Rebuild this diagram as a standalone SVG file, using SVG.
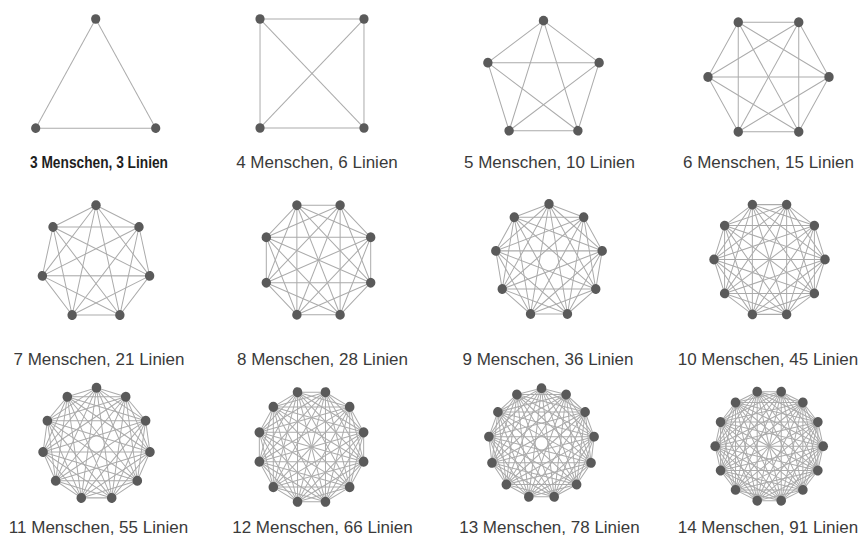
<svg xmlns="http://www.w3.org/2000/svg" xmlns:xlink="http://www.w3.org/1999/xlink" width="861" height="537" viewBox="0 0 861 537">
<style>
  .bg{fill:#ffffff}
  #connectors{stroke:#ababab;stroke-width:1;fill:none}
  .dot{fill:#5a5a5a}
  .lbl{font-family:"Liberation Sans",Arial,Helvetica,sans-serif;font-size:17px;fill:#3a3a3a;text-anchor:middle}
  .lbl1{font-family:"Liberation Sans",Arial,sans-serif;font-size:16px;font-weight:bold;fill:#1e1e1e}
</style>
<defs>
  <path id="f3" d="M0 -69.3L60.02 34.65"/>
  <path id="f4" d="M0 -73.5L73.5 0"/>
  <path id="d4" d="M0 -73.5L0 73.5"/>
  <path id="f5" d="M0 -58.5L55.64 -18.08M0 -58.5L34.39 47.33"/>
  <path id="f6" d="M0 -60.5L52.39 -30.25M0 -60.5L52.39 30.25"/>
  <path id="d6" d="M0 -60.5L0 60.5"/>
  <path id="f7" d="M0 -55L43 -34.29M0 -55L53.62 12.24M0 -55L23.86 49.56"/>
  <path id="f8" d="M0 -56.5L39.95 -39.95M0 -56.5L56.5 0M0 -56.5L39.95 39.95"/>
  <path id="d8" d="M0 -56.5L0 56.5"/>
  <path id="f9" d="M0 -54L34.71 -41.36M0 -54L53.18 -9.37M0 -54L46.77 27M0 -54L18.47 50.74"/>
  <path id="f10" d="M0 -55.5L32.62 -44.9M0 -55.5L52.79 -17.15M0 -55.5L52.79 17.15M0 -55.5L32.62 44.9"/>
  <path id="d10" d="M0 -55.5L0 55.5"/>
  <path id="f11" d="M0 -54L29.19 -45.43M0 -54L49.12 -22.43M0 -54L53.45 7.68M0 -54L40.81 35.36M0 -54L15.21 51.81"/>
  <path id="f12" d="M0 -54L27 -46.77M0 -54L46.77 -27M0 -54L54 0M0 -54L46.77 27M0 -54L27 46.77"/>
  <path id="d12" d="M0 -54L0 54"/>
  <path id="f13" d="M0 -53L24.63 -46.93M0 -53L43.62 -30.11M0 -53L52.61 -6.39M0 -53L49.56 18.79M0 -53L35.14 39.67M0 -53L12.68 51.46"/>
  <path id="f14" d="M0 -54L23.43 -48.65M0 -54L42.22 -33.67M0 -54L52.64 -12.02M0 -54L52.64 12.02M0 -54L42.22 33.67M0 -54L23.43 48.65"/>
  <path id="d14" d="M0 -54L0 54"/>
</defs>
<rect class="bg" x="0" y="0" width="861" height="537"/>

<g id="connectors">
  <g id="e3" transform="translate(95.7 91.8) scale(1 1.05)">
    <use href="#f3"/><use href="#f3" transform="rotate(120)"/><use href="#f3" transform="rotate(240)"/>
  </g>
  <g id="e4" transform="translate(312 73.5) scale(1 1.048)">
    <use href="#f4" transform="rotate(45)"/><use href="#f4" transform="rotate(135)"/><use href="#f4" transform="rotate(225)"/><use href="#f4" transform="rotate(315)"/>
    <use href="#d4" transform="rotate(45)"/><use href="#d4" transform="rotate(135)"/>
  </g>
  <g id="e5" transform="translate(543.5 81.5) scale(1 1.04)">
    <use href="#f5"/><use href="#f5" transform="rotate(72)"/><use href="#f5" transform="rotate(144)"/><use href="#f5" transform="rotate(216)"/><use href="#f5" transform="rotate(288)"/>
  </g>
  <g id="e6" transform="translate(768.5 77) scale(1 1.045)">
    <use href="#f6" transform="rotate(30)"/><use href="#f6" transform="rotate(90)"/><use href="#f6" transform="rotate(150)"/><use href="#f6" transform="rotate(210)"/><use href="#f6" transform="rotate(270)"/><use href="#f6" transform="rotate(330)"/>
    <use href="#d6" transform="rotate(30)"/><use href="#d6" transform="rotate(90)"/><use href="#d6" transform="rotate(150)"/>
  </g>
  <g id="e7" transform="translate(96 263) scale(1 1.05)">
    <use href="#f7"/><use href="#f7" transform="rotate(51.4286)"/><use href="#f7" transform="rotate(102.857)"/><use href="#f7" transform="rotate(154.286)"/><use href="#f7" transform="rotate(205.714)"/><use href="#f7" transform="rotate(257.143)"/><use href="#f7" transform="rotate(308.571)"/>
  </g>
  <g id="e8" transform="translate(318.5 260) scale(1 1.05)">
    <use href="#f8" transform="rotate(22.5)"/><use href="#f8" transform="rotate(67.5)"/><use href="#f8" transform="rotate(112.5)"/><use href="#f8" transform="rotate(157.5)"/><use href="#f8" transform="rotate(202.5)"/><use href="#f8" transform="rotate(247.5)"/><use href="#f8" transform="rotate(292.5)"/><use href="#f8" transform="rotate(337.5)"/>
    <use href="#d8" transform="rotate(22.5)"/><use href="#d8" transform="rotate(67.5)"/><use href="#d8" transform="rotate(112.5)"/><use href="#d8" transform="rotate(157.5)"/>
  </g>
  <g id="e9" transform="translate(549 260.7) scale(1 1.05)">
    <use href="#f9"/><use href="#f9" transform="rotate(40)"/><use href="#f9" transform="rotate(80)"/><use href="#f9" transform="rotate(120)"/><use href="#f9" transform="rotate(160)"/><use href="#f9" transform="rotate(200)"/><use href="#f9" transform="rotate(240)"/><use href="#f9" transform="rotate(280)"/><use href="#f9" transform="rotate(320)"/>
  </g>
  <g id="e10" transform="translate(769.5 259.5) scale(1 1.04)">
    <use href="#f10" transform="rotate(18)"/><use href="#f10" transform="rotate(54)"/><use href="#f10" transform="rotate(90)"/><use href="#f10" transform="rotate(126)"/><use href="#f10" transform="rotate(162)"/><use href="#f10" transform="rotate(198)"/><use href="#f10" transform="rotate(234)"/><use href="#f10" transform="rotate(270)"/><use href="#f10" transform="rotate(306)"/><use href="#f10" transform="rotate(342)"/>
    <use href="#d10" transform="rotate(18)"/><use href="#d10" transform="rotate(54)"/><use href="#d10" transform="rotate(90)"/><use href="#d10" transform="rotate(126)"/><use href="#d10" transform="rotate(162)"/>
  </g>
  <g id="e11" transform="translate(96.5 444) scale(1 1.04)">
    <use href="#f11"/><use href="#f11" transform="rotate(32.727)"/><use href="#f11" transform="rotate(65.455)"/><use href="#f11" transform="rotate(98.182)"/><use href="#f11" transform="rotate(130.909)"/><use href="#f11" transform="rotate(163.636)"/><use href="#f11" transform="rotate(196.364)"/><use href="#f11" transform="rotate(229.091)"/><use href="#f11" transform="rotate(261.818)"/><use href="#f11" transform="rotate(294.545)"/><use href="#f11" transform="rotate(327.273)"/>
  </g>
  <g id="e12" transform="translate(311.5 447) scale(1 1.05)">
    <use href="#f12" transform="rotate(15)"/><use href="#f12" transform="rotate(45)"/><use href="#f12" transform="rotate(75)"/><use href="#f12" transform="rotate(105)"/><use href="#f12" transform="rotate(135)"/><use href="#f12" transform="rotate(165)"/><use href="#f12" transform="rotate(195)"/><use href="#f12" transform="rotate(225)"/><use href="#f12" transform="rotate(255)"/><use href="#f12" transform="rotate(285)"/><use href="#f12" transform="rotate(315)"/><use href="#f12" transform="rotate(345)"/>
    <use href="#d12" transform="rotate(15)"/><use href="#d12" transform="rotate(45)"/><use href="#d12" transform="rotate(75)"/><use href="#d12" transform="rotate(105)"/><use href="#d12" transform="rotate(135)"/><use href="#d12" transform="rotate(165)"/>
  </g>
  <g id="e13" transform="translate(541.5 443.3) scale(1 1.04)">
    <use href="#f13"/><use href="#f13" transform="rotate(27.692)"/><use href="#f13" transform="rotate(55.385)"/><use href="#f13" transform="rotate(83.077)"/><use href="#f13" transform="rotate(110.769)"/><use href="#f13" transform="rotate(138.462)"/><use href="#f13" transform="rotate(166.154)"/><use href="#f13" transform="rotate(193.846)"/><use href="#f13" transform="rotate(221.538)"/><use href="#f13" transform="rotate(249.231)"/><use href="#f13" transform="rotate(276.923)"/><use href="#f13" transform="rotate(304.615)"/><use href="#f13" transform="rotate(332.308)"/>
  </g>
  <g id="e14" transform="translate(769.2 446.2) scale(1 1.035)">
    <use href="#f14" transform="rotate(12.857)"/><use href="#f14" transform="rotate(38.571)"/><use href="#f14" transform="rotate(64.286)"/><use href="#f14" transform="rotate(90)"/><use href="#f14" transform="rotate(115.714)"/><use href="#f14" transform="rotate(141.429)"/><use href="#f14" transform="rotate(167.143)"/><use href="#f14" transform="rotate(192.857)"/><use href="#f14" transform="rotate(218.571)"/><use href="#f14" transform="rotate(244.286)"/><use href="#f14" transform="rotate(270)"/><use href="#f14" transform="rotate(295.714)"/><use href="#f14" transform="rotate(321.429)"/><use href="#f14" transform="rotate(347.143)"/>
    <use href="#d14" transform="rotate(12.857)"/><use href="#d14" transform="rotate(38.571)"/><use href="#d14" transform="rotate(64.286)"/><use href="#d14" transform="rotate(90)"/><use href="#d14" transform="rotate(115.714)"/><use href="#d14" transform="rotate(141.429)"/><use href="#d14" transform="rotate(167.143)"/>
  </g>
</g>

<g id="nodes">
  <g id="k3" transform="translate(95.7 91.8) scale(1 1.05)">
    <g id="k3-1"><circle class="dot" cx="0" cy="-69.3" r="4.6"/></g>
    <g id="k3-2" transform="rotate(120)"><circle class="dot" cx="0" cy="-69.3" r="4.6"/></g>
    <g id="k3-3" transform="rotate(240)"><circle class="dot" cx="0" cy="-69.3" r="4.6"/></g>
  </g>
  <g id="k4" transform="translate(312 73.5) scale(1 1.048)">
    <g id="k4-1" transform="rotate(45)"><circle class="dot" cx="0" cy="-73.5" r="4.6"/></g>
    <g id="k4-2" transform="rotate(135)"><circle class="dot" cx="0" cy="-73.5" r="4.6"/></g>
    <g id="k4-3" transform="rotate(225)"><circle class="dot" cx="0" cy="-73.5" r="4.6"/></g>
    <g id="k4-4" transform="rotate(315)"><circle class="dot" cx="0" cy="-73.5" r="4.6"/></g>
  </g>
  <g id="k5" transform="translate(543.5 81.5) scale(1 1.04)">
    <g id="k5-1"><circle class="dot" cx="0" cy="-58.5" r="4.7"/></g>
    <g id="k5-2" transform="rotate(72)"><circle class="dot" cx="0" cy="-58.5" r="4.7"/></g>
    <g id="k5-3" transform="rotate(144)"><circle class="dot" cx="0" cy="-58.5" r="4.7"/></g>
    <g id="k5-4" transform="rotate(216)"><circle class="dot" cx="0" cy="-58.5" r="4.7"/></g>
    <g id="k5-5" transform="rotate(288)"><circle class="dot" cx="0" cy="-58.5" r="4.7"/></g>
  </g>
  <g id="k6" transform="translate(768.5 77) scale(1 1.045)">
    <g id="k6-1" transform="rotate(30)"><circle class="dot" cx="0" cy="-60.5" r="4.7"/></g>
    <g id="k6-2" transform="rotate(90)"><circle class="dot" cx="0" cy="-60.5" r="4.7"/></g>
    <g id="k6-3" transform="rotate(150)"><circle class="dot" cx="0" cy="-60.5" r="4.7"/></g>
    <g id="k6-4" transform="rotate(210)"><circle class="dot" cx="0" cy="-60.5" r="4.7"/></g>
    <g id="k6-5" transform="rotate(270)"><circle class="dot" cx="0" cy="-60.5" r="4.7"/></g>
    <g id="k6-6" transform="rotate(330)"><circle class="dot" cx="0" cy="-60.5" r="4.7"/></g>
  </g>
  <g id="k7" transform="translate(96 263) scale(1 1.05)">
    <g id="k7-1"><circle class="dot" cx="0" cy="-55" r="4.7"/></g>
    <g id="k7-2" transform="rotate(51.4286)"><circle class="dot" cx="0" cy="-55" r="4.7"/></g>
    <g id="k7-3" transform="rotate(102.857)"><circle class="dot" cx="0" cy="-55" r="4.7"/></g>
    <g id="k7-4" transform="rotate(154.286)"><circle class="dot" cx="0" cy="-55" r="4.7"/></g>
    <g id="k7-5" transform="rotate(205.714)"><circle class="dot" cx="0" cy="-55" r="4.7"/></g>
    <g id="k7-6" transform="rotate(257.143)"><circle class="dot" cx="0" cy="-55" r="4.7"/></g>
    <g id="k7-7" transform="rotate(308.571)"><circle class="dot" cx="0" cy="-55" r="4.7"/></g>
  </g>
  <g id="k8" transform="translate(318.5 260) scale(1 1.05)">
    <g id="k8-1" transform="rotate(22.5)"><circle class="dot" cx="0" cy="-56.5" r="4.7"/></g>
    <g id="k8-2" transform="rotate(67.5)"><circle class="dot" cx="0" cy="-56.5" r="4.7"/></g>
    <g id="k8-3" transform="rotate(112.5)"><circle class="dot" cx="0" cy="-56.5" r="4.7"/></g>
    <g id="k8-4" transform="rotate(157.5)"><circle class="dot" cx="0" cy="-56.5" r="4.7"/></g>
    <g id="k8-5" transform="rotate(202.5)"><circle class="dot" cx="0" cy="-56.5" r="4.7"/></g>
    <g id="k8-6" transform="rotate(247.5)"><circle class="dot" cx="0" cy="-56.5" r="4.7"/></g>
    <g id="k8-7" transform="rotate(292.5)"><circle class="dot" cx="0" cy="-56.5" r="4.7"/></g>
    <g id="k8-8" transform="rotate(337.5)"><circle class="dot" cx="0" cy="-56.5" r="4.7"/></g>
  </g>
  <g id="k9" transform="translate(549 260.7) scale(1 1.05)">
    <g id="k9-1"><circle class="dot" cx="0" cy="-54" r="4.7"/></g>
    <g id="k9-2" transform="rotate(40)"><circle class="dot" cx="0" cy="-54" r="4.7"/></g>
    <g id="k9-3" transform="rotate(80)"><circle class="dot" cx="0" cy="-54" r="4.7"/></g>
    <g id="k9-4" transform="rotate(120)"><circle class="dot" cx="0" cy="-54" r="4.7"/></g>
    <g id="k9-5" transform="rotate(160)"><circle class="dot" cx="0" cy="-54" r="4.7"/></g>
    <g id="k9-6" transform="rotate(200)"><circle class="dot" cx="0" cy="-54" r="4.7"/></g>
    <g id="k9-7" transform="rotate(240)"><circle class="dot" cx="0" cy="-54" r="4.7"/></g>
    <g id="k9-8" transform="rotate(280)"><circle class="dot" cx="0" cy="-54" r="4.7"/></g>
    <g id="k9-9" transform="rotate(320)"><circle class="dot" cx="0" cy="-54" r="4.7"/></g>
  </g>
  <g id="k10" transform="translate(769.5 259.5) scale(1 1.04)">
    <g id="k10-1" transform="rotate(18)"><circle class="dot" cx="0" cy="-55.5" r="4.7"/></g>
    <g id="k10-2" transform="rotate(54)"><circle class="dot" cx="0" cy="-55.5" r="4.7"/></g>
    <g id="k10-3" transform="rotate(90)"><circle class="dot" cx="0" cy="-55.5" r="4.7"/></g>
    <g id="k10-4" transform="rotate(126)"><circle class="dot" cx="0" cy="-55.5" r="4.7"/></g>
    <g id="k10-5" transform="rotate(162)"><circle class="dot" cx="0" cy="-55.5" r="4.7"/></g>
    <g id="k10-6" transform="rotate(198)"><circle class="dot" cx="0" cy="-55.5" r="4.7"/></g>
    <g id="k10-7" transform="rotate(234)"><circle class="dot" cx="0" cy="-55.5" r="4.7"/></g>
    <g id="k10-8" transform="rotate(270)"><circle class="dot" cx="0" cy="-55.5" r="4.7"/></g>
    <g id="k10-9" transform="rotate(306)"><circle class="dot" cx="0" cy="-55.5" r="4.7"/></g>
    <g id="k10-10" transform="rotate(342)"><circle class="dot" cx="0" cy="-55.5" r="4.7"/></g>
  </g>
  <g id="k11" transform="translate(96.5 444) scale(1 1.04)">
    <g id="k11-1"><circle class="dot" cx="0" cy="-54" r="4.8"/></g>
    <g id="k11-2" transform="rotate(32.727)"><circle class="dot" cx="0" cy="-54" r="4.8"/></g>
    <g id="k11-3" transform="rotate(65.455)"><circle class="dot" cx="0" cy="-54" r="4.8"/></g>
    <g id="k11-4" transform="rotate(98.182)"><circle class="dot" cx="0" cy="-54" r="4.8"/></g>
    <g id="k11-5" transform="rotate(130.909)"><circle class="dot" cx="0" cy="-54" r="4.8"/></g>
    <g id="k11-6" transform="rotate(163.636)"><circle class="dot" cx="0" cy="-54" r="4.8"/></g>
    <g id="k11-7" transform="rotate(196.364)"><circle class="dot" cx="0" cy="-54" r="4.8"/></g>
    <g id="k11-8" transform="rotate(229.091)"><circle class="dot" cx="0" cy="-54" r="4.8"/></g>
    <g id="k11-9" transform="rotate(261.818)"><circle class="dot" cx="0" cy="-54" r="4.8"/></g>
    <g id="k11-10" transform="rotate(294.545)"><circle class="dot" cx="0" cy="-54" r="4.8"/></g>
    <g id="k11-11" transform="rotate(327.273)"><circle class="dot" cx="0" cy="-54" r="4.8"/></g>
  </g>
  <g id="k12" transform="translate(311.5 447) scale(1 1.05)">
    <g id="k12-1" transform="rotate(15)"><circle class="dot" cx="0" cy="-54" r="4.8"/></g>
    <g id="k12-2" transform="rotate(45)"><circle class="dot" cx="0" cy="-54" r="4.8"/></g>
    <g id="k12-3" transform="rotate(75)"><circle class="dot" cx="0" cy="-54" r="4.8"/></g>
    <g id="k12-4" transform="rotate(105)"><circle class="dot" cx="0" cy="-54" r="4.8"/></g>
    <g id="k12-5" transform="rotate(135)"><circle class="dot" cx="0" cy="-54" r="4.8"/></g>
    <g id="k12-6" transform="rotate(165)"><circle class="dot" cx="0" cy="-54" r="4.8"/></g>
    <g id="k12-7" transform="rotate(195)"><circle class="dot" cx="0" cy="-54" r="4.8"/></g>
    <g id="k12-8" transform="rotate(225)"><circle class="dot" cx="0" cy="-54" r="4.8"/></g>
    <g id="k12-9" transform="rotate(255)"><circle class="dot" cx="0" cy="-54" r="4.8"/></g>
    <g id="k12-10" transform="rotate(285)"><circle class="dot" cx="0" cy="-54" r="4.8"/></g>
    <g id="k12-11" transform="rotate(315)"><circle class="dot" cx="0" cy="-54" r="4.8"/></g>
    <g id="k12-12" transform="rotate(345)"><circle class="dot" cx="0" cy="-54" r="4.8"/></g>
  </g>
  <g id="k13" transform="translate(541.5 443.3) scale(1 1.04)">
    <g id="k13-1"><circle class="dot" cx="0" cy="-53" r="4.8"/></g>
    <g id="k13-2" transform="rotate(27.692)"><circle class="dot" cx="0" cy="-53" r="4.8"/></g>
    <g id="k13-3" transform="rotate(55.385)"><circle class="dot" cx="0" cy="-53" r="4.8"/></g>
    <g id="k13-4" transform="rotate(83.077)"><circle class="dot" cx="0" cy="-53" r="4.8"/></g>
    <g id="k13-5" transform="rotate(110.769)"><circle class="dot" cx="0" cy="-53" r="4.8"/></g>
    <g id="k13-6" transform="rotate(138.462)"><circle class="dot" cx="0" cy="-53" r="4.8"/></g>
    <g id="k13-7" transform="rotate(166.154)"><circle class="dot" cx="0" cy="-53" r="4.8"/></g>
    <g id="k13-8" transform="rotate(193.846)"><circle class="dot" cx="0" cy="-53" r="4.8"/></g>
    <g id="k13-9" transform="rotate(221.538)"><circle class="dot" cx="0" cy="-53" r="4.8"/></g>
    <g id="k13-10" transform="rotate(249.231)"><circle class="dot" cx="0" cy="-53" r="4.8"/></g>
    <g id="k13-11" transform="rotate(276.923)"><circle class="dot" cx="0" cy="-53" r="4.8"/></g>
    <g id="k13-12" transform="rotate(304.615)"><circle class="dot" cx="0" cy="-53" r="4.8"/></g>
    <g id="k13-13" transform="rotate(332.308)"><circle class="dot" cx="0" cy="-53" r="4.8"/></g>
  </g>
  <g id="k14" transform="translate(769.2 446.2) scale(1 1.035)">
    <g id="k14-1" transform="rotate(12.857)"><circle class="dot" cx="0" cy="-54" r="4.8"/></g>
    <g id="k14-2" transform="rotate(38.571)"><circle class="dot" cx="0" cy="-54" r="4.8"/></g>
    <g id="k14-3" transform="rotate(64.286)"><circle class="dot" cx="0" cy="-54" r="4.8"/></g>
    <g id="k14-4" transform="rotate(90)"><circle class="dot" cx="0" cy="-54" r="4.8"/></g>
    <g id="k14-5" transform="rotate(115.714)"><circle class="dot" cx="0" cy="-54" r="4.8"/></g>
    <g id="k14-6" transform="rotate(141.429)"><circle class="dot" cx="0" cy="-54" r="4.8"/></g>
    <g id="k14-7" transform="rotate(167.143)"><circle class="dot" cx="0" cy="-54" r="4.8"/></g>
    <g id="k14-8" transform="rotate(192.857)"><circle class="dot" cx="0" cy="-54" r="4.8"/></g>
    <g id="k14-9" transform="rotate(218.571)"><circle class="dot" cx="0" cy="-54" r="4.8"/></g>
    <g id="k14-10" transform="rotate(244.286)"><circle class="dot" cx="0" cy="-54" r="4.8"/></g>
    <g id="k14-11" transform="rotate(270)"><circle class="dot" cx="0" cy="-54" r="4.8"/></g>
    <g id="k14-12" transform="rotate(295.714)"><circle class="dot" cx="0" cy="-54" r="4.8"/></g>
    <g id="k14-13" transform="rotate(321.429)"><circle class="dot" cx="0" cy="-54" r="4.8"/></g>
    <g id="k14-14" transform="rotate(347.143)"><circle class="dot" cx="0" cy="-54" r="4.8"/></g>
  </g>
</g>

<g id="labels">
  <text class="lbl1" x="30" y="167.5" textLength="138" lengthAdjust="spacingAndGlyphs">3 Menschen, 3 Linien</text>
  <text class="lbl" x="317" y="167.5">4 Menschen, 6 Linien</text>
  <text class="lbl" x="549.5" y="167.5">5 Menschen, 10 Linien</text>
  <text class="lbl" x="768.5" y="167.5">6 Menschen, 15 Linien</text>
  <text class="lbl" x="99" y="364.5">7 Menschen, 21 Linien</text>
  <text class="lbl" x="322.5" y="364.5">8 Menschen, 28 Linien</text>
  <text class="lbl" x="548" y="364.5">9 Menschen, 36 Linien</text>
  <text class="lbl" x="768" y="364.5">10 Menschen, 45 Linien</text>
  <text class="lbl" x="98.5" y="533">11 Menschen, 55 Linien</text>
  <text class="lbl" x="322.5" y="533">12 Menschen, 66 Linien</text>
  <text class="lbl" x="549.5" y="533">13 Menschen, 78 Linien</text>
  <text class="lbl" x="768" y="533">14 Menschen, 91 Linien</text>
</g>
</svg>
